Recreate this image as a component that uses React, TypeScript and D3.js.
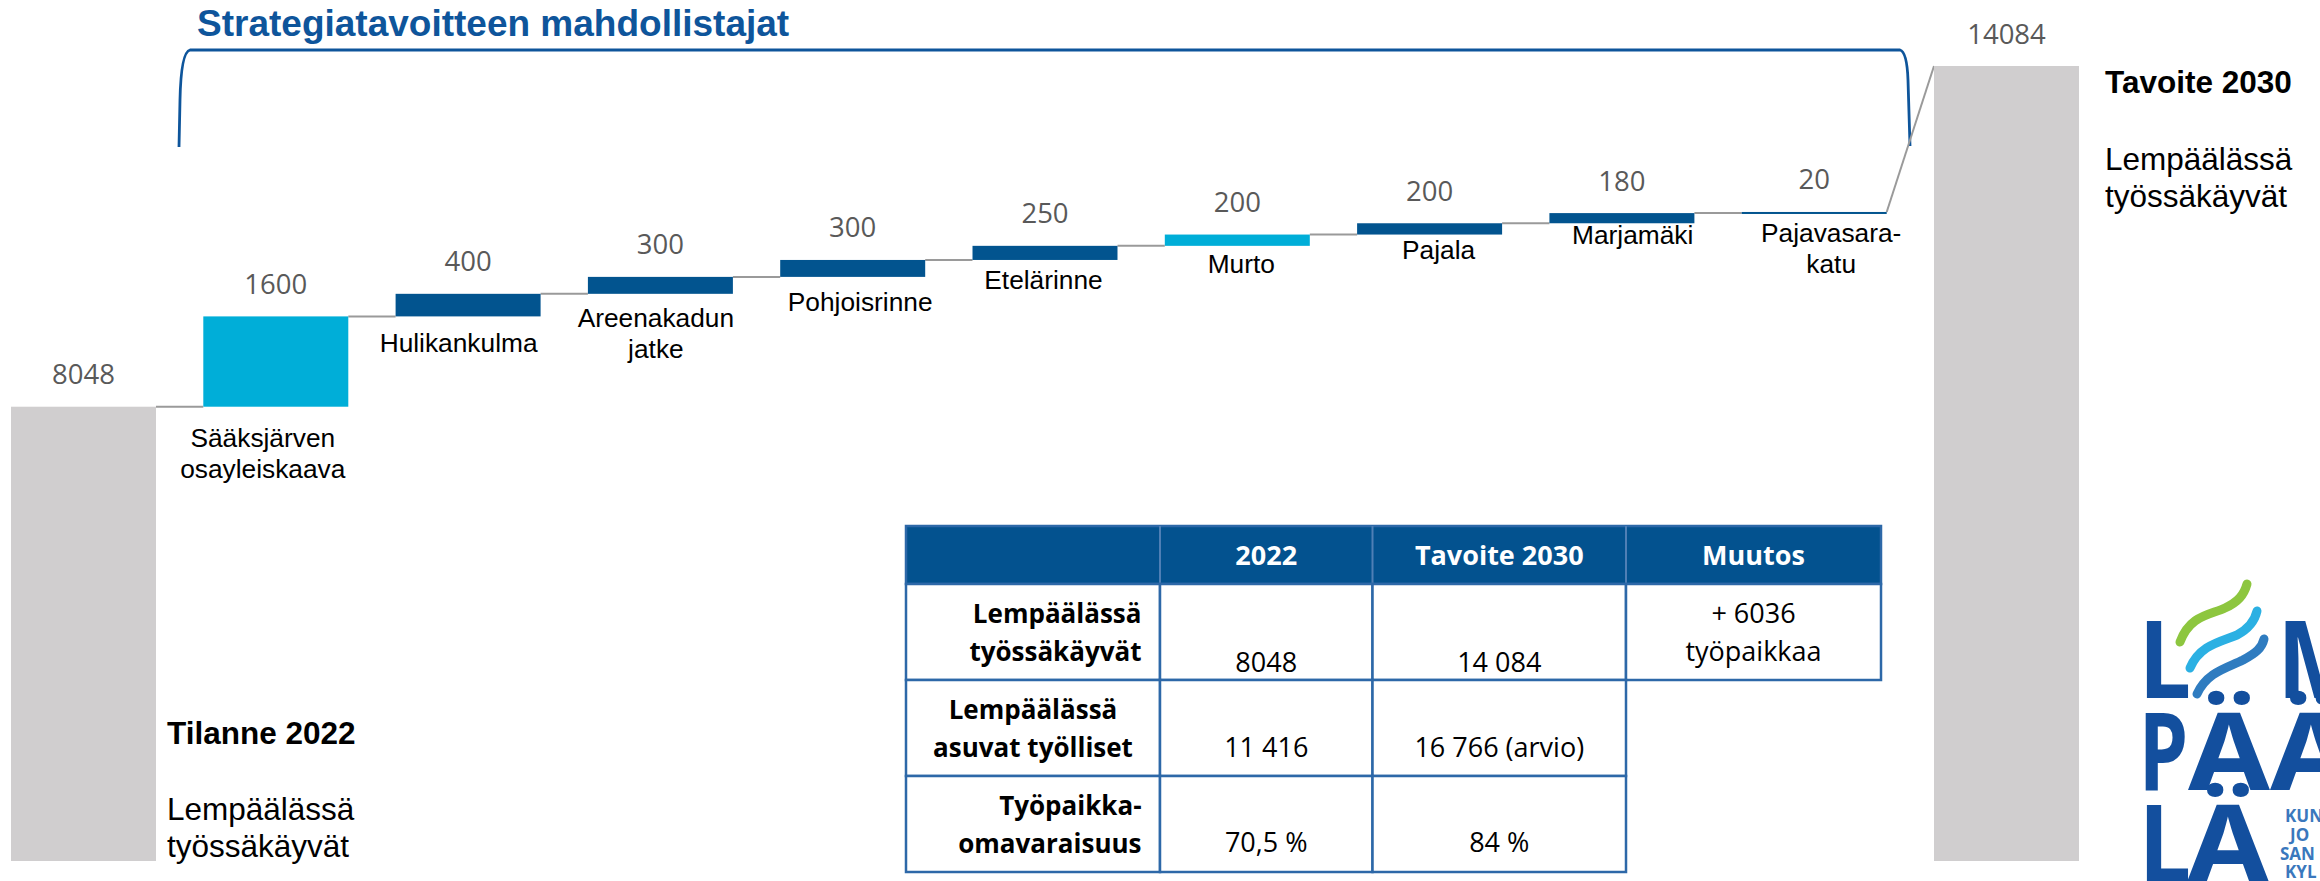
import React from 'react';
import * as d3 from 'd3';

// ---------- data ----------
const categories: string[][] = [
  ['Tilanne 2022'],
  ['Sääksjärven', 'osayleiskaava'],
  ['Hulikankulma'],
  ['Areenakadun', 'jatke'],
  ['Pohjoisrinne'],
  ['Etelärinne'],
  ['Murto'],
  ['Pajala'],
  ['Marjamäki'],
  ['Pajavasara-', 'katu'],
  ['Tavoite 2030'],
];
const values: number[] = [8048, 1600, 400, 300, 300, 250, 200, 200, 180, 20, 14084];
const kinds: string[] = ['total', 'highlight', 'step', 'step', 'step', 'step', 'highlight', 'step', 'step', 'step', 'total'];

const title = 'Strategiatavoitteen mahdollistajat';
const sideLeft = ['Tilanne 2022', 'Lempäälässä', 'työssäkäyvät'];
const sideRight = ['Tavoite 2030', 'Lempäälässä', 'työssäkäyvät'];

const tableHeader = ['', '2022', 'Tavoite 2030', 'Muutos'];
const tableRowLabels: string[][] = [
  ['Lempäälässä', 'työssäkäyvät'],
  ['Lempäälässä', 'asuvat työlliset'],
  ['Työpaikka-', 'omavaraisuus'],
];
const values2022 = ['8048', '11 416', '70,5 %'];
const values2030 = ['14 084', '16 766 (arvio)', '84 %'];
const changeText = ['+ 6036', 'työpaikkaa'];

// ---------- layout ----------
const W = 2320;
const H = 881;
const LABEL_DX = [0, -13, -9.5, -4.5, 7.5, -1.5, 4, 9, 10.8, 17, 0];
const LABEL_DY = [0, 40.5, 35.6, 33, 34, 28.6, 27.5, 24.6, 20.7, 29, 0];
const TABLE_X = [906, 1160, 1372.5, 1626, 1881];
const TABLE_Y = [526, 584, 680, 776, 872];
const ROW_ALIGN = ['end', 'middle', 'end'];
const ROW_VALUE_DY = [88, 76.7, 75.7];

const COLORS: Record<string, string> = {
  total: '#d0cecf',
  step: '#02548f',
  highlight: '#00aed8',
};

export default function App() {
  const x = d3
    .scaleBand<number>()
    .domain(values.map((_, i) => i))
    .range([11, 2079])
    .paddingInner(0.246)
    .paddingOuter(0);
  const y = d3.scaleLinear().domain([0, 14084]).range([861, 66]);
  const bw = x.bandwidth();

  let cum = 0;
  const bars = values.map((v, i) => {
    let base: number;
    let top: number;
    if (kinds[i] === 'total') {
      base = 0;
      top = v;
    } else {
      base = cum;
      top = cum + v;
    }
    cum = top;
    return { i, v, base, top, kind: kinds[i], label: categories[i] };
  });

  const connectors = bars.slice(0, -1).map((b, i) => {
    const next = bars[i + 1];
    const entry = next.kind === 'total' ? next.top : next.base;
    return {
      x1: (x(i) as number) + bw,
      y1: y(b.top),
      x2: x(i + 1) as number,
      y2: y(entry),
    };
  });

  const sansFont = "'Liberation Sans', Arial, sans-serif";
  const numFont = "'Open Sans', sans-serif";

  return (
    <svg
      width={W}
      height={H}
      style={{ position: 'absolute', left: 0, top: 0, background: '#fff' }}
    >
      {/* Title */}
      <text x={197} y={36} fontFamily={sansFont} fontWeight={700} fontSize={37} fill="#0e559b">
        {title}
      </text>
      {/* Bracket */}
      <path
        d="M179,147 L180,100 Q181,52 190,50 L1900,50 Q1907,52 1908,80 L1910,146"
        fill="none"
        stroke="#0e559b"
        strokeWidth={2.8}
      />

      {/* connectors */}
      {connectors.map((c, i) => (
        <line key={'c' + i} x1={c.x1} y1={c.y1} x2={c.x2} y2={c.y2} stroke="#9a9a9a" strokeWidth={2} />
      ))}

      {/* bars */}
      {bars.map((b) => {
        const h = Math.max(y(b.base) - y(b.top), 2);
        return (
          <rect
            key={'b' + b.i}
            x={x(b.i)}
            y={y(b.top)}
            width={bw}
            height={h}
            fill={COLORS[b.kind]}
          />
        );
      })}

      {/* value labels */}
      {bars.map((b) => (
        <text
          key={'v' + b.i}
          x={(x(b.i) as number) + bw / 2}
          y={y(b.top) - 22.5}
          textAnchor="middle"
          fontFamily={numFont}
          fontSize={27.5}
          fill="#595959"
        >
          {b.v}
        </text>
      ))}

      {/* category labels */}
      {bars
        .filter((b) => b.kind !== 'total')
        .map((b) => (
          <text
            key={'l' + b.i}
            x={(x(b.i) as number) + bw / 2 + LABEL_DX[b.i]}
            y={y(b.base) + LABEL_DY[b.i]}
            textAnchor="middle"
            fontFamily={sansFont}
            fontSize={26.3}
            fill="#000"
          >
            {b.label.map((t, k) => (
              <tspan key={k} x={(x(b.i) as number) + bw / 2 + LABEL_DX[b.i]} dy={k === 0 ? 0 : 31}>
                {t}
              </tspan>
            ))}
          </text>
        ))}

      {/* side texts */}
      <g fontFamily={sansFont} fontSize={31.5} fill="#000">
        <text x={167} y={744} fontWeight={700}>{sideLeft[0]}</text>
        <text x={167} y={820}>{sideLeft[1]}</text>
        <text x={167} y={857}>{sideLeft[2]}</text>
        <text x={2105} y={92.7} fontWeight={700}>{sideRight[0]}</text>
        <text x={2105} y={170}>{sideRight[1]}</text>
        <text x={2105} y={206.7}>{sideRight[2]}</text>
      </g>

      {/* table */}
      <g fontFamily={numFont}>
        <rect
          x={TABLE_X[0]}
          y={TABLE_Y[0]}
          width={TABLE_X[4] - TABLE_X[0]}
          height={TABLE_Y[1] - TABLE_Y[0]}
          fill="#03528f"
          stroke="#2d68a8"
          strokeWidth={2.5}
        />
        {[1, 2, 3].map((c) => (
          <line
            key={'hs' + c}
            x1={TABLE_X[c]}
            x2={TABLE_X[c]}
            y1={TABLE_Y[0]}
            y2={TABLE_Y[1]}
            stroke="#4f7fb5"
            strokeWidth={2}
          />
        ))}
        {tableHeader.map((t, c) =>
          t ? (
            <text
              key={'h' + c}
              x={(TABLE_X[c] + TABLE_X[c + 1]) / 2}
              y={565}
              textAnchor="middle"
              fill="#fff"
              fontWeight={700}
              fontSize={27}
            >
              {t}
            </text>
          ) : null
        )}
        {/* body cells */}
        {tableRowLabels.map((_, r) =>
          [0, 1, 2, 3]
            .filter((c) => c < 3 || r === 0)
            .map((c) => (
              <rect
                key={'cell' + r + '-' + c}
                x={TABLE_X[c]}
                y={TABLE_Y[r + 1]}
                width={TABLE_X[c + 1] - TABLE_X[c]}
                height={TABLE_Y[r + 2] - TABLE_Y[r + 1]}
                fill="#fff"
                stroke="#2d68a8"
                strokeWidth={2.5}
              />
            ))
        )}
        {tableRowLabels.map((lines, r) => {
          const align = ROW_ALIGN[r];
          const tx = align === 'end' ? TABLE_X[1] - 18.5 : (TABLE_X[0] + TABLE_X[1]) / 2;
          return (
            <text key={'rl' + r} textAnchor={align} fontWeight={700} fontSize={26} fill="#000">
              {lines.map((t, k) => (
                <tspan key={k} x={tx} y={TABLE_Y[r + 1] + 39 + k * 37.5}>
                  {t}
                </tspan>
              ))}
            </text>
          );
        })}
        {values2022.map((v, r) => (
          <text
            key={'v22' + r}
            x={(TABLE_X[1] + TABLE_X[2]) / 2}
            y={TABLE_Y[r + 1] + ROW_VALUE_DY[r]}
            textAnchor="middle"
            fontSize={27}
            fill="#000"
          >
            {v}
          </text>
        ))}
        {values2030.map((v, r) => (
          <text
            key={'v30' + r}
            x={(TABLE_X[2] + TABLE_X[3]) / 2}
            y={TABLE_Y[r + 1] + ROW_VALUE_DY[r]}
            textAnchor="middle"
            fontSize={27}
            fill="#000"
          >
            {v}
          </text>
        ))}
        <text textAnchor="middle" fontSize={27} fill="#000">
          {changeText.map((t, k) => (
            <tspan key={k} x={(TABLE_X[3] + TABLE_X[4]) / 2} y={TABLE_Y[1] + 39 + k * 37.5}>
              {t}
            </tspan>
          ))}
        </text>
      </g>

      {/* logo */}
      <g fontFamily="'Noto Sans', sans-serif" fontWeight={700} fill="#134f9e" fontSize={108}>
        <text x={2139} y={698} textLength={52} lengthAdjust="spacingAndGlyphs">L</text>
        <text x={2277} y={698} textLength={90} lengthAdjust="spacingAndGlyphs">M</text>
        <text x={2139} y={790} textLength={49} lengthAdjust="spacingAndGlyphs">P</text>
        <text x={2188} y={790} textLength={82} lengthAdjust="spacingAndGlyphs">Ä</text>
        <text x={2270} y={790} textLength={82} lengthAdjust="spacingAndGlyphs">Ä</text>
        <text x={2139} y={882} textLength={52} lengthAdjust="spacingAndGlyphs">L</text>
        <text x={2187} y={882} textLength={82} lengthAdjust="spacingAndGlyphs">Ä</text>
      </g>
      <g fill="none" strokeLinecap="round" strokeWidth={9}>
        <path d="M2180,642 C2190,615 2210,615 2225,608 C2238,602 2244,595 2247,584" stroke="#8dc63f" />
        <path d="M2190,668 C2200,645 2220,642 2237,635 C2250,628 2255,620 2257,611" stroke="#2bb0e3" />
        <path d="M2197,694 C2207,672 2227,668 2243,660 C2256,653 2262,648 2264,639" stroke="#2f7cc0" />
      </g>
      <g fontFamily="'Open Sans', sans-serif" fontWeight={700} fontSize={17} fill="#3a78bd">
        <text x={2285} y={822}>KUN</text>
        <text x={2290} y={841}>JO</text>
        <text x={2280} y={860}>SAN</text>
        <text x={2285} y={878}>KYL</text>
      </g>
    </svg>
  );
}
